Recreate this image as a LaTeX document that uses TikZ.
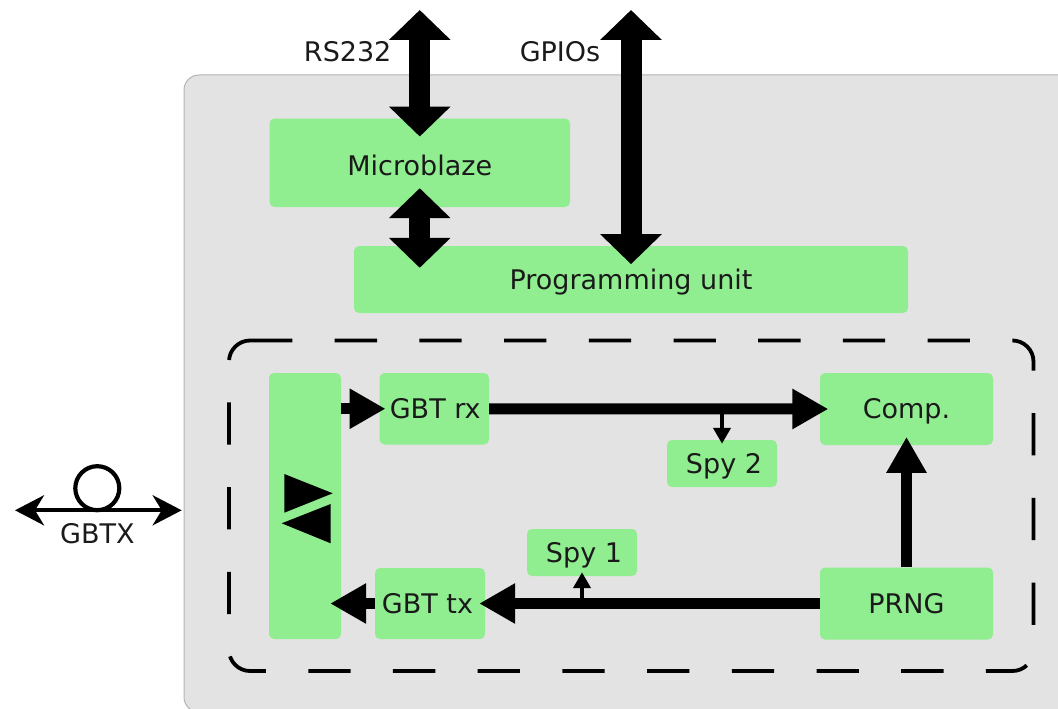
\documentclass[tikz,border=0pt]{standalone}
\usepackage{fontspec}
\setmainfont{DejaVu Sans}
\usetikzlibrary{arrows.meta,calc}
\definecolor{boxgreen}{HTML}{90EE90}
\definecolor{panel}{HTML}{E3E3E3}
\definecolor{panelline}{HTML}{B4B4B4}
\definecolor{ink}{HTML}{1A1A1A}
\tikzset{
  block/.style={fill=boxgreen,rounded corners=5pt,inner sep=0pt,text=ink,
    font=\fontsize{27}{30}\selectfont,text height=19.7pt,text depth=0pt},
  plain/.style={inner sep=0pt,text=ink,font=\fontsize{27}{30}\selectfont,text height=19.7pt,text depth=0pt},
  bus/.style={line width=21pt,{Triangle[length=30pt,width=60pt]}-{Triangle[length=30pt,width=60pt]},black},
  flow/.style={line width=11pt,-{Triangle[length=36pt,width=38pt]},black},
  tap/.style={line width=4.6pt,-{Triangle[length=16pt,width=17pt]},black},
  fibre/.style={line width=4.2pt,{Stealth[length=29pt,width=30pt,inset=9pt]}-{Stealth[length=29pt,width=30pt,inset=9pt]},black},
  zone/.style={line width=3.8pt,black,dash pattern=on 42.3pt off 42.4pt}
}
\begin{document}
\begin{tikzpicture}[x=1pt,y=-1pt]
\useasboundingbox (0,0) rectangle (1058,709);
\begin{scope}
\clip (0,0) rectangle (1058,709);
\node[draw=panelline,line width=1pt,fill=panel,rounded corners=15pt,minimum width=891pt,minimum height=637pt,inner sep=0pt] (fpga) at (629.5,393.5) {};
\end{scope}
% dashed zone
\draw[zone] (250,340.5) -- (1012.5,340.5)
  .. controls (1024,340.5) and (1033.5,350) .. (1033.5,361.5)
  -- (1033.5,650)
  .. controls (1033.5,661.5) and (1024,671) .. (1012.5,671)
  -- (250,671)
  .. controls (238.5,671) and (229,661.5) .. (229,650)
  -- (229,361.5)
  .. controls (229,350) and (238.5,340.5) .. (250,340.5);
% blocks
\node[block,minimum width=300.5pt,minimum height=88.5pt] (mb) at (419.75,162.75) {\raisebox{-3pt}{Microblaze}};
\node[block,minimum width=554pt,minimum height=67pt] (prog) at (631,279.5) {Programming unit};
\node[block,minimum width=72pt,minimum height=266pt] (bar) at (305,506) {};
\node[block,minimum width=109.5pt,minimum height=71.5pt] (rx) at (434.25,408.75) {\kern2pt GBT rx};
\node[block,minimum width=110pt,minimum height=71pt] (tx) at (430,603.5) {GBT tx\kern5pt};
\node[block,minimum width=173pt,minimum height=72pt] (comp) at (906.5,409) {Comp.};
\node[block,minimum width=173pt,minimum height=72pt] (prng) at (906.5,603.5) {PRNG};
\node[block,minimum width=110pt,minimum height=47pt] (spytwo) at (722,463.5) {\kern4pt Spy 2};
\node[block,minimum width=110pt,minimum height=47pt] (spyone) at (582,552.5) {\kern4pt Spy 1};
% free ends
\coordinate (rsend) at (419.75,10);
\coordinate (gpend) at (631,10);
\coordinate (fl) at (15,510.3);
\coordinate (fr) at (181.7,510.3);
% buses
\draw[bus,shorten >=-18.2pt] (rsend) -- (mb.north);
\draw[bus,shorten <=-19pt,shorten >=-22pt] (mb.south) -- (mb.south |- prog.north);
\draw[bus,shorten >=-18.3pt] (gpend) -- (prog.north);
% flows
\draw[flow,shorten >=-6.2pt] (bar.east |- rx.west) -- (rx.west);
\draw[flow,shorten >=-8.5pt] (rx.east) -- (comp.west);
\draw[flow,shorten >=-8.3pt] (prng.north) -- (comp.south);
\draw[flow,shorten >=-6pt] (prng.west) -- (tx.east);
\draw[flow,shorten >=-11pt] (tx.west) -- (bar.east |- tx.west);
\draw[tap,shorten >=-4pt] (spytwo.north |- rx.east) -- (spytwo.north);
\draw[tap,shorten >=-4pt] (spyone.south |- prng.west) -- (spyone.south);
% transceiver symbol
\fill[black] (284.3,474) -- (332.7,493.3) -- (284.3,512.7) -- cycle;
\fill[black] (330.7,504) -- (281.7,523.3) -- (330.7,543.3) -- cycle;
% GBTX
\draw[fibre] (fl) -- (fr);
\node[draw=black,line width=4.2pt,circle,minimum size=44pt,inner sep=0pt] (loop) at (97.3,488.2) {};
% labels
\node[plain] (gbtx) at (97.3,533.2) {GBTX};
\node[plain] (rs) at (347.7,51.2) {RS232};
\node[plain] (gp) at (560,51.2) {GPIOs};
\end{tikzpicture}
\end{document}
